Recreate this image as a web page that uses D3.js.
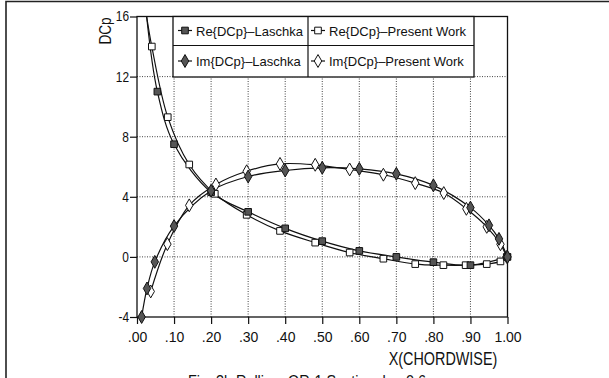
<!DOCTYPE html>
<html>
   <head>
      <title>DCp chordwise</title>
      <meta charset="utf-8">
      <style>
         body { margin: 0; background: #fff; }
         text { font-family: "Liberation Sans", Arial, sans-serif; fill: #111; }
      </style>
   </head>
   <body>
      <svg width="609" height="378"></svg>
      <script src="https://cdnjs.cloudflare.com/ajax/libs/d3/7.8.5/d3.min.js"></script>
      <script>
         // values: [x/c, DCp]
         var reLaschka = [[0.055, 11.0], [0.10, 7.5], [0.20, 4.3], [0.30, 3.0], [0.40, 1.9], [0.50, 1.05],
                          [0.60, 0.4], [0.70, 0.0], [0.80, -0.35], [0.90, -0.55], [1.0, 0.0]]
         var rePresent = [[0.040, 14.0], [0.083, 9.3], [0.141, 6.15], [0.210, 4.2], [0.296, 2.8], [0.386, 1.73],
                          [0.481, 0.95], [0.574, 0.29], [0.665, -0.12], [0.751, -0.48], [0.827, -0.55],
                          [0.887, -0.55], [0.944, -0.48], [0.981, -0.3], [0.998, 0.0]]
         var imLaschka = [[0.0125, -4.0], [0.027, -2.1], [0.048, -0.33], [0.10, 2.05], [0.20, 4.4], [0.30, 5.35],
                          [0.40, 5.75], [0.50, 5.93], [0.60, 5.86], [0.70, 5.53], [0.80, 4.76], [0.90, 3.28],
                          [0.95, 2.1], [0.977, 1.2], [1.0, 0.0]]
         var imPresent = [[0.037, -2.3], [0.082, 0.85], [0.141, 3.43], [0.213, 4.82], [0.296, 5.7], [0.386, 6.19],
                          [0.481, 6.13], [0.574, 5.82], [0.665, 5.47], [0.751, 4.91], [0.828, 4.25], [0.889, 3.2],
                          [0.944, 2.0], [0.981, 0.84], [0.998, 0.0]]
         // where the Re curve leaves the top of the frame
         var reTopCrossing = [0.026, 16]

         var xTicks = [0, 0.1, 0.2, 0.3, 0.4, 0.5, 0.6, 0.7, 0.8, 0.9, 1.0]
         var xTickLabels = ['.00', '.10', '.20', '.30', '.40', '.50', '.60', '.70', '.80', '.90', '1.00']
         var yTicks = [-4, 0, 4, 8, 12, 16]
         var yTickLabels = ['-4', '0', '4', '8', '12', '16']
         var legendLabels = ['Re{DCp}\u2013Laschka', 'Re{DCp}\u2013Present Work', 'Im{DCp}\u2013Laschka', 'Im{DCp}\u2013Present Work']

         var svg = d3.select('svg')

         var x = d3.scaleLinear().domain([0, 1]).range([137, 507.5])
         var y = d3.scaleLinear().domain([-4, 16]).range([317, 16.5])

         // outer scan border
         svg.append('path').attr('d', 'M6,378V1.5H609').attr('fill', 'none')
           .attr('stroke', '#222').attr('stroke-width', 1.6)

         // dotted grid
         var grid = svg.append('g').attr('stroke', '#444').attr('stroke-width', 1).attr('stroke-dasharray', '1,1.5')
         grid.selectAll('.gx').data(xTicks.slice(1, -1)).enter().append('line')
           .attr('x1', function (d) { return x(d) }).attr('x2', function (d) { return x(d) })
           .attr('y1', y(-4)).attr('y2', y(16))
         grid.selectAll('.gy').data(yTicks.slice(1, -1)).enter().append('line')
           .attr('y1', function (d) { return y(d) }).attr('y2', function (d) { return y(d) })
           .attr('x1', x(0)).attr('x2', x(1))

         // frame
         svg.append('rect').attr('x', x(0)).attr('y', y(16))
           .attr('width', x(1) - x(0)).attr('height', y(-4) - y(16))
           .attr('fill', 'none').attr('stroke', '#111').attr('stroke-width', 1.3)

         // axes
         var xAxis = d3.axisBottom(x).tickValues(xTicks)
           .tickFormat(function (d, i) { return xTickLabels[i] }).tickSize(7).tickPadding(8)
         var yAxis = d3.axisLeft(y).tickValues(yTicks)
           .tickFormat(function (d, i) { return yTickLabels[i] }).tickSize(7).tickPadding(1)

         var gx = svg.append('g').attr('transform', 'translate(0,' + y(-4) + ')').call(xAxis)
         var gy = svg.append('g').attr('transform', 'translate(' + x(0) + ',0)').call(yAxis)
         ;[gx, gy].forEach(function (g) {
           g.select('.domain').remove()
           g.selectAll('line').attr('stroke', '#111').attr('stroke-width', 1.2)
           g.selectAll('text').attr('font-size', 14)
             .attr('font-family', '"Liberation Sans", Arial, sans-serif').attr('fill', '#111')
         })
         gy.selectAll('text').attr('transform', 'scale(0.85,1)')
           .attr('x', -8 / 0.85)

         // condensed axis titles, like the plotter lettering
         svg.append('text').attr('transform', 'translate(111,31) rotate(-90) scale(0.8,1)')
           .attr('text-anchor', 'middle').attr('font-size', 17).text('DCp')
         svg.append('text').attr('transform', 'translate(443,365) scale(0.8,1)')
           .attr('text-anchor', 'middle').attr('font-size', 18).text('X(CHORDWISE)')
         svg.append('text').attr('transform', 'translate(188,387) scale(0.9,1)').attr('font-size', 16)
           .text('Fig. 3b  Rolling, OR-1 Section,  k = 0.6')

         // curves
         svg.append('clipPath').attr('id', 'plot').append('rect')
           .attr('x', x(0)).attr('y', y(16)).attr('width', x(1) - x(0)).attr('height', y(-4) - y(16))
         var line = d3.line()
           .x(function (d) { return x(d[0]) }).y(function (d) { return y(d[1]) })
           .curve(d3.curveCatmullRom.alpha(0.5))
         var curves = svg.append('g').attr('clip-path', 'url(#plot)')
           .attr('fill', 'none').attr('stroke', '#111').attr('stroke-width', 1.2)
         curves.append('path').attr('d', line([reTopCrossing].concat(reLaschka)))
         curves.append('path').attr('d', line([reTopCrossing].concat(rePresent)))
         curves.append('path').attr('d', line(imLaschka))
         curves.append('path').attr('d', line(imPresent))

         var square = d3.symbol().type(d3.symbolSquare).size(44)
         var diamond = d3.symbol().type(d3.symbolDiamond).size(48)

         function markers(data, sym, fill) {
           svg.append('g').selectAll('path').data(data).enter().append('path')
             .attr('transform', function (d) { return 'translate(' + x(d[0]) + ',' + y(d[1]) + ')' })
             .attr('d', sym).attr('fill', fill).attr('stroke', '#111').attr('stroke-width', 1)
         }
         markers(rePresent, square, '#fff')
         markers(imPresent, diamond, '#fff')
         markers(reLaschka, square, '#555')
         markers(imLaschka, diamond, '#555')

         // legend box
         var lg = svg.append('g')
         lg.append('rect').attr('x', 173).attr('y', y(16)).attr('width', 301).attr('height', 77 - y(16))
           .attr('fill', '#fff').attr('stroke', '#111').attr('stroke-width', 1.3)
         lg.append('line').attr('x1', 173).attr('x2', 474).attr('y1', 45.5).attr('y2', 45.5)
           .attr('stroke', '#111').attr('stroke-width', 1.2)
         lg.append('line').attr('x1', 308).attr('x2', 308).attr('y1', y(16)).attr('y2', 77)
           .attr('stroke', '#111').attr('stroke-width', 1.2)

         var items = [
           { sym: square, fill: '#555', cx: 185, cy: 30.5 },
           { sym: square, fill: '#fff', cx: 318, cy: 30.5 },
           { sym: diamond, fill: '#555', cx: 185, cy: 61 },
           { sym: diamond, fill: '#fff', cx: 318, cy: 61 }
         ]
         items.forEach(function (it, i) {
           lg.append('line').attr('x1', it.cx - 7).attr('x2', it.cx + 7).attr('y1', it.cy).attr('y2', it.cy)
             .attr('stroke', '#111').attr('stroke-width', 1.2)
           lg.append('path').attr('transform', 'translate(' + it.cx + ',' + it.cy + ')')
             .attr('d', it.sym).attr('fill', it.fill).attr('stroke', '#111')
           lg.append('text').attr('x', it.cx + 11).attr('y', it.cy + 5)
             .attr('font-size', 13).text(legendLabels[i])
         })
      </script>
   </body>
</html>
